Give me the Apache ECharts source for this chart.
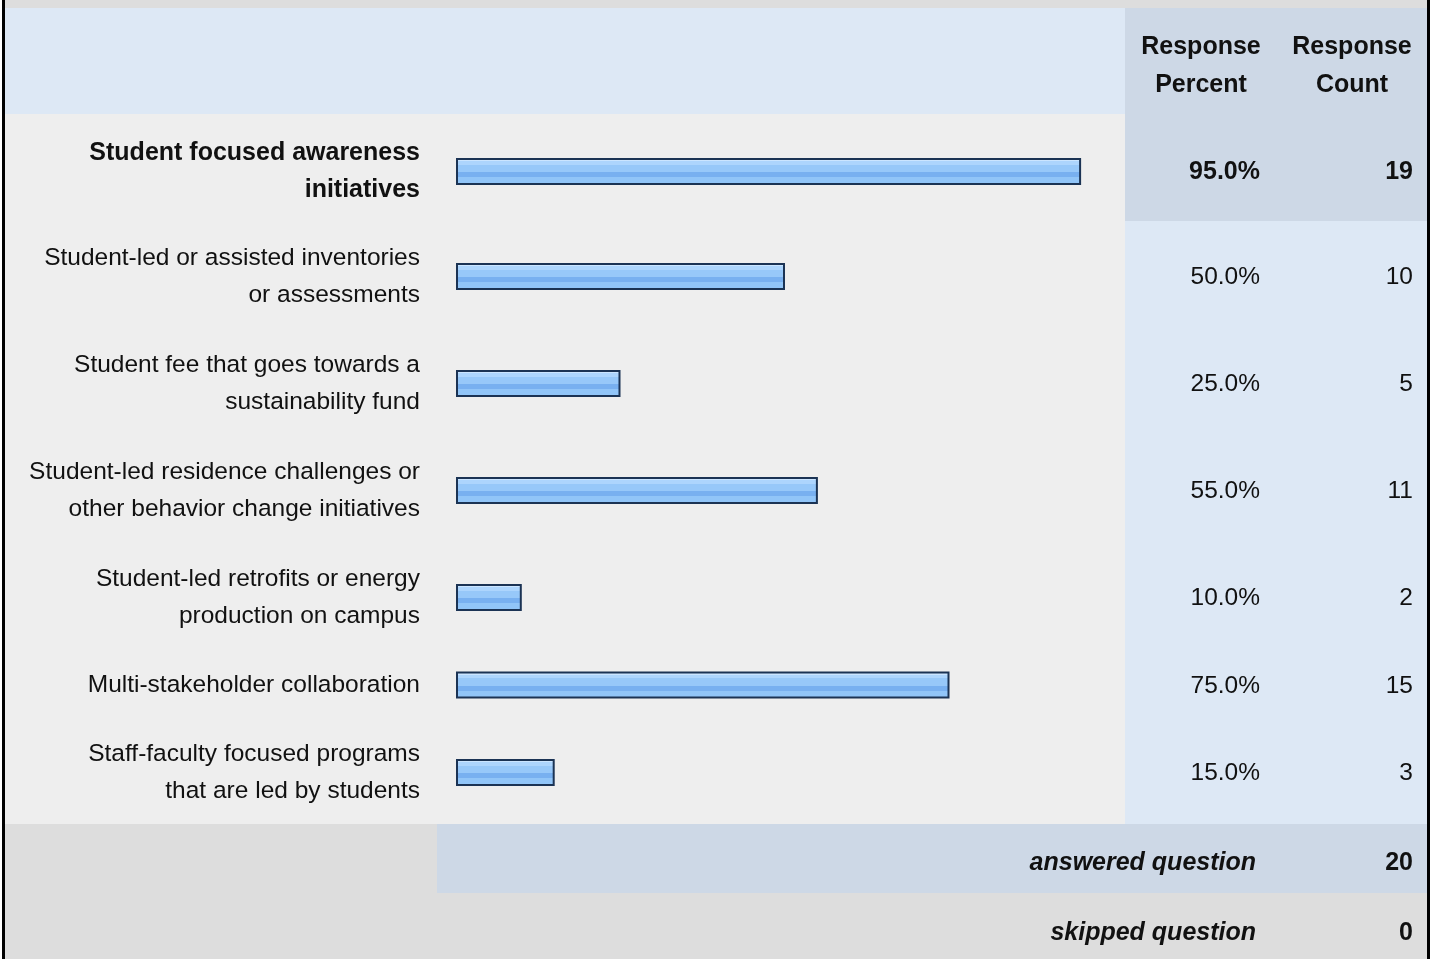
<!DOCTYPE html>
<html>
<head>
<meta charset="utf-8">
<title>Student engagement initiatives</title>
<script src="https://cdn.jsdelivr.net/npm/echarts@6/dist/echarts.min.js"></script>
<style>
  html, body { margin: 0; padding: 0; background: #ffffff; }
  #chart { width: 1435px; height: 959px; }
</style>
</head>
<body>
<div id="chart"></div>
<script>
// Answer options (line breaks show where each label wraps)
const categories = [
  'Student focused awareness\ninitiatives',
  'Student-led or assisted inventories\nor assessments',
  'Student fee that goes towards a\nsustainability fund',
  'Student-led residence challenges or\nother behavior change initiatives',
  'Student-led retrofits or energy\nproduction on campus',
  'Multi-stakeholder collaboration',
  'Staff-faculty focused programs\nthat are led by students'
];
// Number of respondents choosing each option
const responseCounts = [19, 10, 5, 11, 2, 15, 3];
const answeredCount = 20;
const skippedCount = 0;
const headerLabels = ['Response\nPercent', 'Response\nCount'];
const footerLabels = ['answered question', 'skipped question'];

// ---- derived values ----
const responsePercents = responseCounts.map(c => c / answeredCount * 100);
const topIndex = responseCounts.indexOf(Math.max(...responseCounts));

// ---- table layout ----
const FONT = "'Liberation Sans', Arial, Helvetica, sans-serif";
const FS = 25;        // bold text
const FS_N = 24.5;    // regular text
const LEFT = 5, RIGHT = 1427;
const HEADER_TOP = 8, BODY_TOP = 114;
const COL_SPLIT = 1125;
const PCT_RIGHT = 1260, CNT_RIGHT = 1413;
const BAR_LEFT = 456, BAR_SPAN = 658;

const rowHeights = categories.map(c => c.split('\n').length > 1 ? 107 : 68);
const rowTops = [];
let acc = BODY_TOP;
rowHeights.forEach(h => { rowTops.push(acc); acc += h; });
const FOOT_TOP = acc;            // answered-question row
const FOOT2_TOP = FOOT_TOP + 69; // skipped-question row
const BOTTOM = 959;

const barGradient = new echarts.graphic.LinearGradient(0, 0, 0, 1, [
  { offset: 0.00, color: '#cbe5ff' },
  { offset: 0.12, color: '#cbe5ff' },
  { offset: 0.12, color: '#add5fd' },
  { offset: 0.25, color: '#add5fd' },
  { offset: 0.25, color: '#97c8f9' },
  { offset: 0.52, color: '#97c8f9' },
  { offset: 0.52, color: '#78b0f0' },
  { offset: 0.72, color: '#78b0f0' },
  { offset: 0.72, color: '#91c5f8' },
  { offset: 1.00, color: '#91c5f8' }
]);

const grids = [], xAxes = [], yAxes = [], series = [];
categories.forEach((cat, i) => {
  const bold = i === topIndex;
  const shift = bold ? 2 : 0;   // bold row sits slightly lower in its cell
  grids.push({ left: BAR_LEFT, width: BAR_SPAN, top: rowTops[i] + 2 + shift, height: rowHeights[i] });
  xAxes.push({ gridIndex: i, type: 'value', min: 0, max: 100, show: false });
  yAxes.push({
    gridIndex: i, type: 'category', data: [cat],
    axisLine: { show: false }, axisTick: { show: false }, splitLine: { show: false },
    axisLabel: {
      margin: 36, fontFamily: FONT, fontSize: bold ? FS : FS_N, lineHeight: 37.5,
      color: '#111', fontWeight: bold ? 'bold' : 'normal', align: 'right'
    }
  });
  series.push({
    type: 'bar', xAxisIndex: i, yAxisIndex: i,
    data: [responsePercents[i]], barWidth: 27, silent: true,
    itemStyle: { color: barGradient, borderColor: '#1b3354', borderWidth: 2 }
  });
});

// ---- backgrounds, borders and table text ----
const g = [];
function rect(x, y, w, h, fill, z) {
  g.push({ type: 'rect', z: z || 0, silent: true, shape: { x, y, width: w, height: h }, style: { fill } });
}
function text(t, x, y, align, font, lh) {
  g.push({ type: 'text', z: 10, silent: true, x, y,
    style: { text: t, align, verticalAlign: 'middle', font, fill: '#111', lineHeight: lh || FS * 1.5 } });
}
// top band
rect(LEFT, 0, RIGHT - LEFT, HEADER_TOP, '#dddddd');
// header
rect(LEFT, HEADER_TOP, COL_SPLIT - LEFT, BODY_TOP - HEADER_TOP, '#dde8f5');
rect(COL_SPLIT, HEADER_TOP, RIGHT - COL_SPLIT, BODY_TOP - HEADER_TOP, '#cdd8e6');
// body
rect(LEFT, BODY_TOP, COL_SPLIT - LEFT, FOOT_TOP - BODY_TOP, '#eeeeee');
categories.forEach((c, i) => {
  rect(COL_SPLIT, rowTops[i], RIGHT - COL_SPLIT, rowHeights[i], i === topIndex ? '#cdd8e6' : '#dde8f5');
});
// footer
rect(LEFT, FOOT_TOP, 437 - LEFT, FOOT2_TOP - FOOT_TOP, '#dddddd');
rect(437, FOOT_TOP, RIGHT - 437, FOOT2_TOP - FOOT_TOP, '#cdd8e6');
rect(LEFT, FOOT2_TOP, RIGHT - LEFT, BOTTOM - FOOT2_TOP, '#dddddd');
// side borders
rect(2, 0, 3, BOTTOM, '#000000', 5);
rect(RIGHT, 0, 3, BOTTOM, '#000000', 5);

// header text
const boldFont = 'bold ' + FS + 'px ' + FONT;
const normFont = FS_N + 'px ' + FONT;
text(headerLabels[0], 1201, 66, 'center', boldFont, 38);
text(headerLabels[1], 1352, 66, 'center', boldFont, 38);
// row values
categories.forEach((c, i) => {
  const bold = i === topIndex;
  const f = bold ? boldFont : normFont;
  const cy = rowTops[i] + rowHeights[i] / 2 + 3 + (bold ? 2 : 0);
  text(responsePercents[i].toFixed(1) + '%', PCT_RIGHT, cy, 'right', f);
  text(String(responseCounts[i]), CNT_RIGHT, cy, 'right', f);
});
// footer text
const italicBold = 'italic bold ' + FS + 'px ' + FONT;
text(footerLabels[0], 1256, FOOT_TOP + 39, 'right', italicBold);
text(String(answeredCount), CNT_RIGHT, FOOT_TOP + 39, 'right', boldFont);
text(footerLabels[1], 1256, FOOT2_TOP + 40, 'right', italicBold);
text(String(skippedCount), CNT_RIGHT, FOOT2_TOP + 40, 'right', boldFont);

const chart = echarts.init(document.getElementById('chart'), null, { renderer: 'canvas' });
chart.setOption({
  animation: false,
  backgroundColor: '#ffffff',
  grid: grids,
  xAxis: xAxes,
  yAxis: yAxes,
  series: series,
  graphic: { elements: g }
});
</script>
</body>
</html>
